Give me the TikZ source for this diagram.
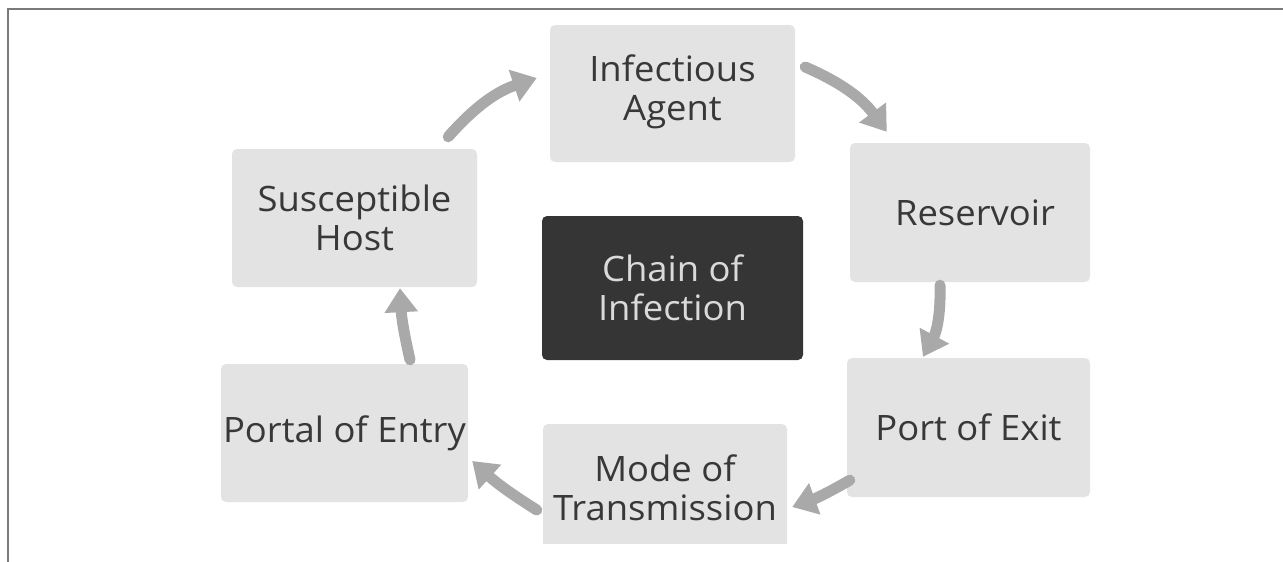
\documentclass[tikz,border=0pt]{standalone}
\usepackage{fontspec}
\setmainfont{Open Sans}[FakeStretch=1.04]
\usetikzlibrary{arrows.meta}
\definecolor{boxfill}{HTML}{E3E3E3}
\definecolor{boxink}{HTML}{383838}
\definecolor{hubfill}{HTML}{353535}
\definecolor{hubink}{HTML}{DADADA}
\definecolor{arrowgray}{HTML}{A9A9A9}
\definecolor{framegray}{HTML}{7A7A7A}

\begin{document}
\begin{tikzpicture}[x=1pt, y=-1pt,
    every node/.style={font=\fontsize{35}{39}\selectfont, align=center, inner sep=0pt},
    stage/.style={fill=boxfill, text=boxink, rounded corners=5pt},
    hub/.style={fill=hubfill, text=hubink, rounded corners=5pt},
    flow/.style={arrowgray, line width=11pt, line cap=round,
                 -{Triangle[width=32pt,length=24pt]}}]

  \useasboundingbox (0,0) rectangle (1283,562);

  %% frame
  \draw[framegray, line width=2pt] (1283,9) -- (8,9) -- (8,562);

  %% centre
  \node[hub, minimum width=261pt, minimum height=144pt] (chain) at (672.5,288) {Chain of\\Infection};

  %% stages of the chain
  \node[stage, minimum width=245pt, minimum height=137pt] (agent) at (672.5,93.5)
    {\raisebox{5pt}{\begin{tabular}{@{}c@{}}Infectious\\Agent\end{tabular}}};
  \node[stage, minimum width=240pt, minimum height=139pt] (reservoir) at (970,212.5) {\hspace*{10pt}Reservoir};
  \node[stage, minimum width=243pt, minimum height=139pt] (exitport) at (968.5,427.5) {Port of Exit};
  \begin{scope}
    \clip (0,0) rectangle (1283,543);
    \node[stage, minimum width=244pt, minimum height=138pt] (mode) at (665,493)
      {\raisebox{5pt}{\begin{tabular}{@{}c@{}}Mode of\\Transmission\end{tabular}}};
  \end{scope}
  \node[stage, minimum width=247pt, minimum height=138pt] (entry) at (344.5,433) {Portal of Entry};
  \node[stage, minimum width=245pt, minimum height=138pt] (host) at (354.5,218) {Susceptible\\Host};

  %% arrows round the chain
  \draw[flow] ([xshift=-29pt,yshift=12pt]host.north east) to[bend left=15]
              ([xshift=-13pt,yshift=15.5pt]agent.west);
  \draw[flow] ([xshift=10pt,yshift=26.5pt]agent.east) to[bend left=15]
              ([xshift=37pt,yshift=11pt]reservoir.north west);
  \draw[flow] ([xshift=-30pt,yshift=-3pt]reservoir.south) to[bend left=15]
              ([xshift=-45.5pt,yshift=1pt]exitport.north);
  \draw[flow] ([xshift=3pt,yshift=17pt]exitport.south west) to[bend left=5]
              ([xshift=5pt,yshift=-14pt]mode.east);
  \draw[flow] ([xshift=-6pt,yshift=-17pt]mode.west) to[bend left=5]
              ([xshift=4pt,yshift=-28pt]entry.east);
  \draw[flow] ([xshift=65.5pt,yshift=4pt]entry.north) to[bend left=5]
              ([xshift=45.5pt,yshift=-1pt]host.south);

\end{tikzpicture}
\end{document}
